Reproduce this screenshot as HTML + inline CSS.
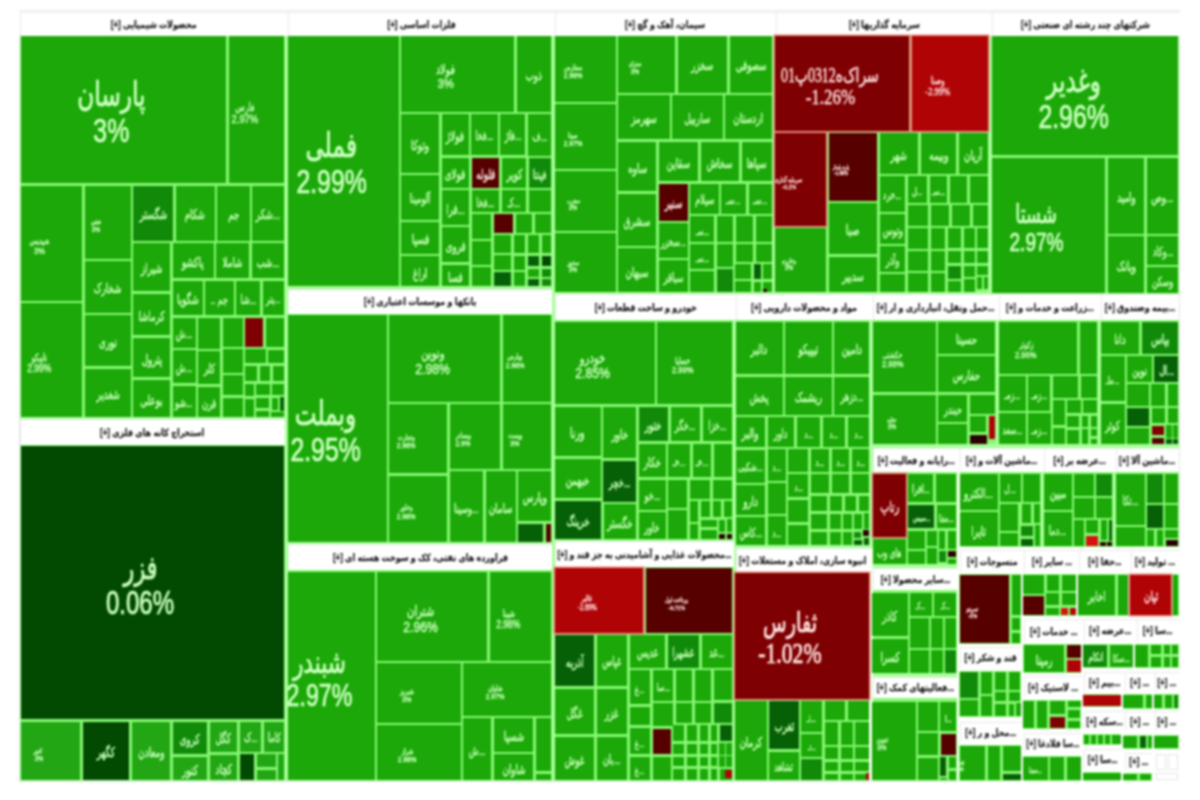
<!DOCTYPE html>
<html lang="fa">
<head>
<meta charset="utf-8">
<title>نقشه بازار</title>
<style>
html,body{margin:0;padding:0;background:#fff;width:1200px;height:800px;overflow:hidden}
body{position:relative;font-family:"Liberation Sans","DejaVu Sans",sans-serif}
#wrap{position:absolute;left:0;top:0;width:1200px;height:800px;filter:blur(.8px)}
#m{position:absolute;left:20px;top:12px;width:1159px;height:769px;background:#88f874}
#m{box-shadow:0 0 0 1px #e6e6e6}
.c{text-shadow:0 0 1px rgba(200,255,190,.55);position:absolute;display:flex;flex-direction:column;align-items:center;justify-content:center;overflow:hidden;color:#c9ffbd;white-space:nowrap;line-height:1;direction:rtl}
.c.r{color:#ffe2e0;text-shadow:0 0 1px rgba(255,220,220,.5);font-family:"Liberation Serif","DejaVu Sans",serif}
.c.p{box-shadow:0 0 0 1.5px #e88a7c}
.c b{font-weight:normal;display:block;font-size:1.05em;transform:scaleX(.64);line-height:1;color:#c4ffb6;-webkit-text-stroke:.35px currentColor}
.c.r b{color:#ffe2e0}
.c.t b{font-size:1.12em;color:inherit}
.c i{-webkit-text-stroke:.3px currentColor}
.c.g b,.c.g i{-webkit-text-stroke:.7px currentColor}
.c.r.g b{font-size:1em}
.c.r.g i{font-size:1.05em}
.c.t b{transform:scaleX(.69);line-height:1.08}
.c.t i{line-height:1.08}
.c.m i{transform:scaleX(.84)}
.c i{font-style:normal;display:block;font-size:1.12em;transform:scaleX(.74);direction:ltr;line-height:1}
.c{box-sizing:border-box}
.c.x{padding-top:4px}
.c.t{padding-right:24px;padding-top:7px}
.h{-webkit-text-stroke:.25px #222;position:absolute;background:#fff;box-shadow:inset 1px 1px 0 #e9e9e9;color:#222;font-weight:bold;font-size:10px;display:flex;align-items:center;justify-content:center;white-space:nowrap;overflow:hidden;direction:rtl}
.h span{display:block}
.w{position:absolute;background:#fff}
</style>
</head>
<body>
<div id="wrap">
<div id="m"></div>
<div class="w" style="left:19px;top:10px;width:1161px;height:26px;box-shadow:inset 0 1px 0 #e6e6e6"></div>

<div style="position:absolute;left:285px;top:36px;width:3px;height:745px;background:#aaff9c"></div>
<div style="position:absolute;left:552px;top:36px;width:3px;height:745px;background:#aaff9c"></div>
<div style="position:absolute;left:772px;top:36px;width:4px;height:257px;background:#aaff9c"></div>
<div style="position:absolute;left:988px;top:36px;width:4px;height:257px;background:#aaff9c"></div>
<div style="position:absolute;left:733px;top:320px;width:3px;height:461px;background:#aaff9c"></div>
<div style="position:absolute;left:869px;top:320px;width:4px;height:461px;background:#aaff9c"></div>
<div style="position:absolute;left:996px;top:320px;width:3px;height:126px;background:#aaff9c"></div>
<div style="position:absolute;left:1098px;top:320px;width:3px;height:126px;background:#aaff9c"></div>
<div style="position:absolute;left:957px;top:472px;width:3px;height:309px;background:#aaff9c"></div>
<div style="position:absolute;left:1041px;top:472px;width:3px;height:75px;background:#aaff9c"></div>
<div style="position:absolute;left:1113px;top:472px;width:3px;height:75px;background:#aaff9c"></div>
<div style="position:absolute;left:20px;top:417px;width:265px;height:3px;background:#aaff9c"></div>
<div style="position:absolute;left:288px;top:286px;width:264px;height:2px;background:#aaff9c"></div>
<div style="position:absolute;left:288px;top:542px;width:264px;height:3px;background:#aaff9c"></div>
<div style="position:absolute;left:555px;top:292px;width:624px;height:3px;background:#aaff9c"></div>
<div style="position:absolute;left:555px;top:540px;width:178px;height:3px;background:#aaff9c"></div>
<div style="position:absolute;left:736px;top:545px;width:134px;height:3px;background:#aaff9c"></div>
<div style="position:absolute;left:873px;top:444px;width:306px;height:4px;background:#aaff9c"></div>
<div style="position:absolute;left:873px;top:564px;width:85px;height:4px;background:#aaff9c"></div>
<div style="position:absolute;left:873px;top:673px;width:85px;height:4px;background:#aaff9c"></div>
<div style="position:absolute;left:20px;top:36px;width:1px;height:745px;background:#aaff9c"></div>
<div style="position:absolute;left:1178px;top:36px;width:1px;height:745px;background:#aaff9c"></div>
<div style="position:absolute;left:20px;top:780px;width:1159px;height:1px;background:#aaff9c"></div>
<div style="position:absolute;left:869px;top:548px;width:4px;height:233px;background:#f2ffec"></div>
<div style="position:absolute;left:957px;top:448px;width:3px;height:333px;background:#f2ffec"></div>
<div class="w" style="left:958px;top:547px;width:223px;height:235px"></div>
<div style="position:absolute;left:959px;top:574px;width:62px;height:70px;background:#88f874"></div>
<div style="position:absolute;left:1023px;top:574px;width:53px;height:42px;background:#88f874"></div>
<div style="position:absolute;left:1078px;top:574px;width:50px;height:42px;background:#88f874"></div>
<div style="position:absolute;left:1130px;top:574px;width:49px;height:42px;background:#88f874"></div>
<div style="position:absolute;left:959px;top:671px;width:62px;height:46px;background:#88f874"></div>
<div style="position:absolute;left:959px;top:745px;width:62px;height:36px;background:#88f874"></div>
<div style="position:absolute;left:1023px;top:644px;width:58px;height:29px;background:#88f874"></div>
<div style="position:absolute;left:1023px;top:700px;width:58px;height:29px;background:#88f874"></div>
<div style="position:absolute;left:1023px;top:756px;width:58px;height:25px;background:#88f874"></div>
<div style="position:absolute;left:1083px;top:644px;width:50px;height:24px;background:#88f874"></div>
<div style="position:absolute;left:1083px;top:694px;width:37px;height:13px;background:#88f874"></div>
<div style="position:absolute;left:1083px;top:734px;width:37px;height:11px;background:#88f874"></div>
<div style="position:absolute;left:1083px;top:772px;width:37px;height:9px;background:#88f874"></div>
<div style="position:absolute;left:1135px;top:644px;width:44px;height:24px;background:#88f874"></div>
<div style="position:absolute;left:1124px;top:694px;width:28px;height:15px;background:#88f874"></div>
<div style="position:absolute;left:1154px;top:694px;width:25px;height:15px;background:#88f874"></div>
<div style="position:absolute;left:1124px;top:735px;width:28px;height:14px;background:#88f874"></div>
<div style="position:absolute;left:1154px;top:735px;width:25px;height:14px;background:#88f874"></div>
<div style="position:absolute;left:1124px;top:773px;width:28px;height:8px;background:#88f874"></div>
<div class="h" style="left:20px;top:12px;width:268px;height:24px"><span style="transform:scaleX(0.800)">محصولات شیمیایی [+]</span></div>
<div class="h" style="left:20px;top:419px;width:265px;height:26px"><span style="transform:scaleX(0.800)">استخراج کانه های فلزی [+]</span></div>
<div class="h" style="left:288px;top:12px;width:267px;height:24px"><span style="transform:scaleX(0.800)">فلزات اساسی [+]</span></div>
<div class="h" style="left:288px;top:289px;width:264px;height:25px"><span style="transform:scaleX(0.800)">بانکها و موسسات اعتباری [+]</span></div>
<div class="h" style="left:288px;top:544px;width:264px;height:26px"><span style="transform:scaleX(0.800)">فراورده های نفتی، کک و سوخت هسته ای [+]</span></div>
<div class="h" style="left:555px;top:12px;width:221px;height:24px"><span style="transform:scaleX(0.800)">سیمان، آهک و گچ [+]</span></div>
<div class="h" style="left:776px;top:12px;width:216px;height:24px"><span style="transform:scaleX(0.800)">سرمایه گذاریها [+]</span></div>
<div class="h" style="left:992px;top:12px;width:187px;height:24px"><span style="transform:scaleX(0.800)">شرکتهای چند رشته ای صنعتی [+]</span></div>
<div class="h" style="left:555px;top:294px;width:181px;height:26px"><span style="transform:scaleX(0.800)">خودرو و ساخت قطعات [+]</span></div>
<div class="h" style="left:736px;top:294px;width:137px;height:26px"><span style="transform:scaleX(0.800)">مواد و محصولات دارویی [+]</span></div>
<div class="h" style="left:873px;top:294px;width:126px;height:26px"><span style="transform:scaleX(0.800)">...حمل ونقل، انبارداری و ار [+]</span></div>
<div class="h" style="left:999px;top:294px;width:102px;height:26px"><span style="transform:scaleX(0.800)">...زراعت و خدمات و [+]</span></div>
<div class="h" style="left:1101px;top:294px;width:78px;height:26px"><span style="transform:scaleX(0.800)">...بیمه وصندوق [+]</span></div>
<div class="h" style="left:873px;top:448px;width:87px;height:24px"><span style="transform:scaleX(0.800)">...رایانه و فعالیت [+]</span></div>
<div class="h" style="left:960px;top:448px;width:84px;height:24px"><span style="transform:scaleX(0.800)">...ماشین آلات و [+]</span></div>
<div class="h" style="left:1044px;top:448px;width:72px;height:24px"><span style="transform:scaleX(0.800)">...عرضه بر [+]</span></div>
<div class="h" style="left:1116px;top:448px;width:63px;height:24px"><span style="transform:scaleX(0.800)">...ماشین آلا [+]</span></div>
<div class="h" style="left:555px;top:541px;width:179px;height:26px"><span style="transform:scaleX(0.795)">...محصولات غذایی و آشامیدنی به جز قند و [+]</span></div>
<div class="h" style="left:736px;top:548px;width:134px;height:24px"><span style="transform:scaleX(0.800)">انبوه سازی، املاک و مستغلات [+]</span></div>
<div class="h" style="left:873px;top:568px;width:85px;height:22px"><span style="transform:scaleX(0.800)">...سایر محصولا [+]</span></div>
<div class="h" style="left:873px;top:677px;width:85px;height:21px"><span style="transform:scaleX(0.800)">...فعالیتهای کمک [+]</span></div>
<div class="h" style="left:960px;top:550px;width:64px;height:22px"><span style="transform:scaleX(0.800)">منسوجات [+]</span></div>
<div class="h" style="left:1024px;top:550px;width:55px;height:22px"><span style="transform:scaleX(0.800)">... سایر [+]</span></div>
<div class="h" style="left:1079px;top:550px;width:52px;height:22px"><span style="transform:scaleX(0.800)">...حفا [+]</span></div>
<div class="h" style="left:1131px;top:550px;width:48px;height:22px"><span style="transform:scaleX(0.800)">... تولید [+]</span></div>
<div class="h" style="left:960px;top:647px;width:62px;height:21px"><span style="transform:scaleX(0.800)">قند و شکر [+]</span></div>
<div class="h" style="left:960px;top:722px;width:62px;height:20px"><span style="transform:scaleX(0.800)">...محل و ر [+]</span></div>
<div class="h" style="left:1024px;top:619px;width:60px;height:24px"><span style="transform:scaleX(0.800)">... خدمات [+]</span></div>
<div class="h" style="left:1024px;top:676px;width:58px;height:22px"><span style="transform:scaleX(0.800)">... لاستیک [+]</span></div>
<div class="h" style="left:1024px;top:733px;width:58px;height:21px"><span style="transform:scaleX(0.757)">...سا فلادغا [+]</span></div>
<div class="h" style="left:1084px;top:619px;width:53px;height:23px"><span style="transform:scaleX(0.800)">...عرضه [+]</span></div>
<div class="h" style="left:1084px;top:672px;width:41px;height:20px"><span style="transform:scaleX(0.800)">...بیم [+]</span></div>
<div class="h" style="left:1084px;top:711px;width:41px;height:20px"><span style="transform:scaleX(0.800)">...سکه [+]</span></div>
<div class="h" style="left:1084px;top:749px;width:38px;height:21px"><span style="transform:scaleX(0.800)">...سا [+]</span></div>
<div class="h" style="left:1137px;top:619px;width:42px;height:23px"><span style="transform:scaleX(0.800)">...سا [+]</span></div>
<div class="h" style="left:1125px;top:672px;width:30px;height:20px"><span style="transform:scaleX(0.800)">... [+]</span></div>
<div class="h" style="left:1155px;top:672px;width:24px;height:20px"><span style="transform:scaleX(0.792)">... [+]</span></div>
<div class="h" style="left:1125px;top:711px;width:30px;height:20px"><span style="transform:scaleX(0.800)">... [+]</span></div>
<div class="h" style="left:1155px;top:711px;width:24px;height:20px"><span style="transform:scaleX(0.792)">... [+]</span></div>
<div class="h" style="left:1125px;top:753px;width:27px;height:17px"><span style="transform:scaleX(0.800)">... [+]</span></div>
<div class="c x t g" style="left:20.6px;top:35.6px;width:205.6px;height:147.6px;background:#1ba808;font-size:30px"><b>پارسان</b><i>3%</i></div>
<div class="c x t m" style="left:228.8px;top:35.6px;width:55.3px;height:147.6px;background:#1ba808;font-size:10px"><b>فارس</b><i>2.97%</i></div>
<div class="c x t m" style="left:20.6px;top:185.8px;width:61.6px;height:114.9px;background:#1ba808;font-size:8px"><b>شپدیس</b><i>3%</i></div>
<div class="c x t m" style="left:20.6px;top:303.3px;width:61.6px;height:114.1px;background:#1ba808;font-size:9px"><b>تاپیکو</b><i>2.99%</i></div>
<div class="c x t m" style="left:84.8px;top:185.8px;width:45.9px;height:72.9px;background:#1ba808;font-size:6px"><b>شفن</b><i>3%</i></div>
<div class="c x" style="left:84.8px;top:261.3px;width:45.9px;height:51.4px;background:#1ba808;font-size:13px"><b>شخارک</b></div>
<div class="c x" style="left:84.8px;top:315.3px;width:45.9px;height:50.9px;background:#1ba808;font-size:13px"><b>نوری</b></div>
<div class="c x" style="left:84.8px;top:368.8px;width:45.9px;height:48.6px;background:#1ba808;font-size:13px"><b>شغدیر</b></div>
<div class="c x" style="left:133.3px;top:185.8px;width:39.9px;height:54.9px;background:#118a0a;font-size:13px"><b>شگستر</b></div>
<div class="c x" style="left:175.8px;top:185.8px;width:38.9px;height:54.9px;background:#1ba808;font-size:13px"><b>شکام</b></div>
<div class="c x" style="left:217.3px;top:185.8px;width:32.4px;height:54.9px;background:#1ba808;font-size:13px"><b>جم</b></div>
<div class="c x" style="left:252.3px;top:185.8px;width:31.8px;height:54.9px;background:#1ba808;font-size:13px"><b>...شکر</b></div>
<div class="c x" style="left:133.3px;top:243.3px;width:36.9px;height:47.9px;background:#1ba808;font-size:13px"><b>شیراز</b></div>
<div class="c x" style="left:172.8px;top:243.3px;width:40.9px;height:34.9px;background:#1ba808;font-size:13px"><b>پاکشو</b></div>
<div class="c x" style="left:216.3px;top:243.3px;width:32.9px;height:34.9px;background:#1ba808;font-size:13px"><b>شاملا</b></div>
<div class="c x" style="left:251.8px;top:243.3px;width:32.3px;height:34.9px;background:#1ba808;font-size:13px"><b>...شب</b></div>
<div class="c x" style="left:172.8px;top:280.8px;width:29.9px;height:34.4px;background:#1ba808;font-size:13px"><b>شگویا</b></div>
<div class="c x" style="left:205.3px;top:280.8px;width:28.4px;height:34.4px;background:#1ba808;font-size:12px"><b>جم ..</b></div>
<div class="c x" style="left:236.3px;top:280.8px;width:23.9px;height:34.4px;background:#1ba808;font-size:12px"><b>...شا</b></div>
<div class="c x" style="left:262.8px;top:280.8px;width:21.3px;height:34.4px;background:#1ba808;font-size:11px"><b>...پتر</b></div>
<div class="c x" style="left:133.3px;top:293.8px;width:36.9px;height:41.4px;background:#1ba808;font-size:13px"><b>کرماشا</b></div>
<div class="c x" style="left:133.3px;top:337.8px;width:36.9px;height:39.4px;background:#1ba808;font-size:13px"><b>پترول</b></div>
<div class="c x" style="left:133.3px;top:379.8px;width:36.9px;height:37.6px;background:#1ba808;font-size:13px"><b>بوعلی</b></div>
<div class="c x" style="left:172.8px;top:317.8px;width:22.9px;height:29.9px;background:#1ba808;font-size:12px"><b>...ش</b></div>
<div class="c" style="left:198.3px;top:317.8px;width:21.9px;height:30.9px;background:#1ba808"></div>
<div class="c" style="left:222.8px;top:317.8px;width:19.9px;height:28.9px;background:#1ba808"></div>
<div class="c r" style="left:245.3px;top:317.8px;width:17.9px;height:28.9px;background:#7f0002"></div>
<div class="c" style="left:265.8px;top:317.8px;width:18.3px;height:29.4px;background:#1ba808"></div>
<div class="c x" style="left:172.8px;top:350.3px;width:22.9px;height:32.9px;background:#1ba808;font-size:12px"><b>...ش</b></div>
<div class="c x" style="left:198.3px;top:351.3px;width:21.9px;height:32.9px;background:#1ba808;font-size:12px"><b>کلر</b></div>
<div class="c" style="left:222.8px;top:349.3px;width:19.9px;height:23.4px;background:#1ba808"></div>
<div class="c" style="left:245.3px;top:349.3px;width:20.4px;height:13.9px;background:#1ba808"></div>
<div class="c" style="left:268.3px;top:349.8px;width:15.8px;height:13.4px;background:#1ba808"></div>
<div class="c x" style="left:172.8px;top:385.8px;width:22.9px;height:31.6px;background:#1ba808;font-size:12px"><b>...شو</b></div>
<div class="c x" style="left:198.3px;top:386.8px;width:21.9px;height:30.6px;background:#1ba808;font-size:12px"><b>قرن</b></div>
<div class="c" style="left:222.8px;top:375.3px;width:19.9px;height:19.9px;background:#1ba808"></div>
<div class="c" style="left:222.8px;top:397.8px;width:19.9px;height:19.6px;background:#1ba808"></div>
<div class="c" style="left:245.3px;top:365.8px;width:11.9px;height:15.4px;background:#1ba808"></div>
<div class="c" style="left:259.8px;top:365.8px;width:10.4px;height:15.4px;background:#1ba808"></div>
<div class="c" style="left:272.8px;top:365.8px;width:11.3px;height:15.4px;background:#1ba808"></div>
<div class="c" style="left:245.3px;top:383.8px;width:8.4px;height:12.4px;background:#1ba808"></div>
<div class="c" style="left:256.3px;top:383.8px;width:13.4px;height:11.4px;background:#1ba808"></div>
<div class="c" style="left:272.3px;top:383.8px;width:11.8px;height:11.4px;background:#1ba808"></div>
<div class="c" style="left:245.3px;top:398.8px;width:8.4px;height:18.6px;background:#1ba808"></div>
<div class="c" style="left:256.3px;top:397.8px;width:12.9px;height:10.4px;background:#1ba808"></div>
<div class="c" style="left:256.3px;top:410.8px;width:12.9px;height:6.6px;background:#1ba808"></div>
<div class="c" style="left:271.8px;top:397.8px;width:5.9px;height:12.4px;background:#1ba808"></div>
<div class="c" style="left:279.7px;top:397.2px;width:4.4px;height:13.6px;background:#066006"></div>
<div class="c" style="left:271.2px;top:412.2px;width:12.9px;height:5.2px;background:#1ba808"></div>
<div class="c x t g" style="left:20.6px;top:445.6px;width:263.5px;height:273.6px;background:#024a02;font-size:29px"><b>فزر</b><i>0.06%</i></div>
<div class="c x t m" style="left:20.6px;top:721.8px;width:59.6px;height:58.6px;background:#22a614;font-size:6px"><b>کنور</b><i>3%</i></div>
<div class="c x" style="left:82.8px;top:721.8px;width:46.4px;height:58.6px;background:#024a02;font-size:13px"><b>کگهر</b></div>
<div class="c x" style="left:131.8px;top:721.8px;width:38.4px;height:58.6px;background:#22a614;font-size:13px"><b>ومعادن</b></div>
<div class="c x" style="left:172.8px;top:721.8px;width:34.4px;height:32.4px;background:#118a0a;font-size:13px"><b>کروی</b></div>
<div class="c x" style="left:172.8px;top:756.8px;width:34.4px;height:23.6px;background:#22a614;font-size:13px"><b>کنور</b></div>
<div class="c x" style="left:209.8px;top:721.8px;width:27.4px;height:30.4px;background:#22a614;font-size:13px"><b>کگل</b></div>
<div class="c x" style="left:209.8px;top:754.8px;width:27.4px;height:25.6px;background:#22a614;font-size:13px"><b>کچاد</b></div>
<div class="c x" style="left:239.8px;top:721.8px;width:21.4px;height:29.9px;background:#22a614;font-size:12px"><b>...ک</b></div>
<div class="c x" style="left:263.8px;top:721.8px;width:20.3px;height:29.9px;background:#22a614;font-size:12px"><b>کاما</b></div>
<div class="c" style="left:239.8px;top:754.3px;width:14.4px;height:26.1px;background:#024a02"></div>
<div class="c" style="left:256.8px;top:754.3px;width:18.9px;height:12.9px;background:#22a614"></div>
<div class="c" style="left:256.8px;top:769.8px;width:18.9px;height:10.6px;background:#22a614"></div>
<div class="c" style="left:278.3px;top:754.3px;width:5.8px;height:26.1px;background:#22a614"></div>
<div class="c x t g" style="left:287.9px;top:35.6px;width:110.8px;height:250.8px;background:#1ba808;font-size:30px"><b>فملی</b><i>2.99%</i></div>
<div class="c x t m" style="left:401.3px;top:35.6px;width:112.9px;height:76.1px;background:#1ba808;font-size:12px"><b>فولاد</b><i>3%</i></div>
<div class="c x" style="left:516.8px;top:35.6px;width:34.3px;height:76.1px;background:#1ba808;font-size:13px"><b>ذوب</b></div>
<div class="c x" style="left:401.3px;top:114.3px;width:37.9px;height:58.4px;background:#1ba808;font-size:13px"><b>وتوکا</b></div>
<div class="c x" style="left:441.8px;top:114.3px;width:26.9px;height:40.9px;background:#1ba808;font-size:13px"><b>فولاژ</b></div>
<div class="c x" style="left:471.3px;top:114.3px;width:26.4px;height:40.9px;background:#1ba808;font-size:12px"><b>...فخا</b></div>
<div class="c x" style="left:500.3px;top:114.3px;width:24.9px;height:40.9px;background:#1ba808;font-size:12px"><b>...فاژ</b></div>
<div class="c x" style="left:527.8px;top:114.3px;width:23.3px;height:41.4px;background:#1ba808;font-size:12px"><b>...ف</b></div>
<div class="c x" style="left:401.3px;top:175.3px;width:37.9px;height:44.4px;background:#1ba808;font-size:12px"><b>آلومینا</b></div>
<div class="c x" style="left:401.3px;top:222.3px;width:37.9px;height:31.4px;background:#1ba808;font-size:13px"><b>فسپا</b></div>
<div class="c x" style="left:401.3px;top:256.3px;width:37.9px;height:30.1px;background:#1ba808;font-size:13px"><b>اراغ</b></div>
<div class="c x" style="left:441.8px;top:157.8px;width:27.4px;height:29.9px;background:#1ba808;font-size:13px"><b>فولای</b></div>
<div class="c r x" style="left:471.8px;top:157.8px;width:27.4px;height:29.9px;background:#560000;font-size:13px"><b>فلوله</b></div>
<div class="c x" style="left:501.8px;top:157.8px;width:24.4px;height:29.9px;background:#1ba808;font-size:13px"><b>کویر</b></div>
<div class="c x" style="left:528.8px;top:158.3px;width:22.3px;height:29.4px;background:#118a0a;font-size:12px"><b>فپنتا</b></div>
<div class="c x" style="left:441.8px;top:190.3px;width:27.4px;height:34.4px;background:#1ba808;font-size:13px"><b>...فرا</b></div>
<div class="c x" style="left:441.8px;top:227.3px;width:27.4px;height:34.9px;background:#1ba808;font-size:13px"><b>فروی</b></div>
<div class="c x" style="left:441.8px;top:264.8px;width:27.4px;height:21.6px;background:#1ba808;font-size:13px"><b>فسا</b></div>
<div class="c x" style="left:471.8px;top:190.3px;width:27.4px;height:21.4px;background:#1ba808;font-size:12px"><b>...فخا</b></div>
<div class="c x" style="left:501.8px;top:190.3px;width:24.4px;height:21.4px;background:#1ba808;font-size:12px"><b>...کـ</b></div>
<div class="c" style="left:528.8px;top:190.3px;width:22.3px;height:21.4px;background:#1ba808"></div>
<div class="c" style="left:471.8px;top:214.3px;width:19.4px;height:24.4px;background:#1ba808"></div>
<div class="c r" style="left:493.8px;top:214.3px;width:19.4px;height:18.4px;background:#560000"></div>
<div class="c" style="left:515.8px;top:214.3px;width:16.4px;height:18.4px;background:#1ba808"></div>
<div class="c" style="left:534.8px;top:214.3px;width:16.3px;height:18.4px;background:#1ba808"></div>
<div class="c" style="left:471.8px;top:241.3px;width:19.4px;height:23.4px;background:#1ba808"></div>
<div class="c" style="left:471.8px;top:267.3px;width:19.4px;height:19.1px;background:#1ba808"></div>
<div class="c" style="left:493.8px;top:235.3px;width:17.4px;height:17.4px;background:#1ba808"></div>
<div class="c" style="left:493.8px;top:255.3px;width:17.4px;height:14.4px;background:#1ba808"></div>
<div class="c" style="left:493.8px;top:272.3px;width:17.4px;height:14.1px;background:#066006"></div>
<div class="c" style="left:513.8px;top:235.3px;width:11.4px;height:17.9px;background:#1ba808"></div>
<div class="c" style="left:513.8px;top:255.8px;width:11.4px;height:13.9px;background:#1ba808"></div>
<div class="c" style="left:513.8px;top:272.3px;width:11.4px;height:14.1px;background:#1ba808"></div>
<div class="c" style="left:527.8px;top:235.3px;width:11.4px;height:17.9px;background:#1ba808"></div>
<div class="c" style="left:527.8px;top:255.8px;width:11.4px;height:10.4px;background:#066006"></div>
<div class="c" style="left:527.8px;top:268.8px;width:11.4px;height:7.9px;background:#1ba808"></div>
<div class="c" style="left:527.8px;top:279.3px;width:11.4px;height:7.1px;background:#066006"></div>
<div class="c" style="left:541.8px;top:235.3px;width:9.3px;height:17.9px;background:#1ba808"></div>
<div class="c" style="left:541.8px;top:255.8px;width:9.3px;height:10.4px;background:#024a02"></div>
<div class="c" style="left:541.8px;top:268.8px;width:9.3px;height:7.9px;background:#118a0a"></div>
<div class="c" style="left:541.8px;top:279.3px;width:9.3px;height:7.1px;background:#118a0a"></div>
<div class="c x t g" style="left:287.9px;top:314.6px;width:98.8px;height:227.8px;background:#1ba808;font-size:30px"><b>وبملت</b><i>2.95%</i></div>
<div class="c x t m" style="left:389.3px;top:314.6px;width:110.9px;height:87.1px;background:#1ba808;font-size:13px"><b>ونوین</b><i>2.98%</i></div>
<div class="c x t m" style="left:502.8px;top:314.6px;width:48.3px;height:87.1px;background:#1ba808;font-size:7px"><b>وپارس</b><i>2.98%</i></div>
<div class="c x t m" style="left:389.3px;top:404.3px;width:57.9px;height:68.9px;background:#1ba808;font-size:7px"><b>وتجارت</b><i>2.98%</i></div>
<div class="c x t m" style="left:449.8px;top:404.3px;width:50.4px;height:64.4px;background:#1ba808;font-size:7px"><b>وبصادر</b><i>2.9%</i></div>
<div class="c x t m" style="left:502.8px;top:404.3px;width:48.3px;height:64.4px;background:#1ba808;font-size:7px"><b>وپست</b><i>3%</i></div>
<div class="c x t m" style="left:389.3px;top:475.8px;width:57.9px;height:66.6px;background:#1ba808;font-size:7px"><b>وخاور</b><i>2.98%</i></div>
<div class="c x" style="left:449.8px;top:471.3px;width:33.4px;height:71.1px;background:#1ba808;font-size:12px"><b>...وسینا</b></div>
<div class="c x" style="left:485.8px;top:471.3px;width:29.9px;height:71.1px;background:#1ba808;font-size:13px"><b>سامان</b></div>
<div class="c x" style="left:518.3px;top:471.3px;width:32.8px;height:49.9px;background:#1ba808;font-size:13px"><b>وپارس</b></div>
<div class="c" style="left:518.3px;top:523.8px;width:24.9px;height:18.6px;background:#066006"></div>
<div class="c r" style="left:545.8px;top:523.8px;width:5.3px;height:18.6px;background:#560000"></div>
<div class="c x t g" style="left:287.9px;top:571.6px;width:86.8px;height:208.8px;background:#1ba808;font-size:28px"><b>شبندر</b><i>2.97%</i></div>
<div class="c x t m" style="left:377.3px;top:571.6px;width:109.9px;height:89.1px;background:#1ba808;font-size:13px"><b>شتران</b><i>2.96%</i></div>
<div class="c x t m" style="left:489.8px;top:571.6px;width:61.3px;height:89.1px;background:#1ba808;font-size:9px"><b>شپنا</b><i>2.98%</i></div>
<div class="c x t m" style="left:377.3px;top:663.3px;width:83.4px;height:59.4px;background:#1ba808;font-size:7px"><b>شبریز</b><i>3%</i></div>
<div class="c x t m" style="left:463.3px;top:663.3px;width:87.8px;height:52.4px;background:#1ba808;font-size:7px"><b>شاوان</b><i>2.97%</i></div>
<div class="c x t m" style="left:377.3px;top:725.3px;width:83.4px;height:55.1px;background:#1ba808;font-size:7px"><b>شراز</b><i>2.98%</i></div>
<div class="c x" style="left:463.3px;top:718.3px;width:27.9px;height:62.1px;background:#1ba808;font-size:12px"><b>...ش</b></div>
<div class="c x" style="left:493.8px;top:718.3px;width:39.4px;height:33.4px;background:#1ba808;font-size:13px"><b>شسپا</b></div>
<div class="c x" style="left:493.8px;top:754.3px;width:39.4px;height:26.1px;background:#1ba808;font-size:13px"><b>شاوان</b></div>
<div class="c" style="left:535.8px;top:718.3px;width:15.3px;height:52.9px;background:#1ba808"></div>
<div class="c" style="left:535.8px;top:773.8px;width:15.3px;height:6.6px;background:#1ba808"></div>
<div class="c x t m" style="left:554.9px;top:35.6px;width:60.8px;height:66.1px;background:#1ba808;font-size:7px"><b>سفارس</b><i>2.98%</i></div>
<div class="c x t m" style="left:554.9px;top:104.3px;width:60.8px;height:64.4px;background:#1ba808;font-size:7px"><b>سیتا</b><i>2.97%</i></div>
<div class="c x t m" style="left:554.9px;top:171.3px;width:60.8px;height:59.4px;background:#1ba808;font-size:6px"><b>سغرب</b><i>3%</i></div>
<div class="c x t m" style="left:554.9px;top:233.3px;width:60.8px;height:59.1px;background:#1ba808;font-size:6px"><b>سخوز</b><i>3%</i></div>
<div class="c x t m" style="left:618.3px;top:35.6px;width:56.9px;height:57.1px;background:#1ba808;font-size:6px"><b>ستران</b><i>3%</i></div>
<div class="c x" style="left:677.8px;top:35.6px;width:49.4px;height:57.1px;background:#1ba808;font-size:13px"><b>سخزر</b></div>
<div class="c x" style="left:729.8px;top:35.6px;width:41.8px;height:57.1px;background:#1ba808;font-size:13px"><b>سصوفی</b></div>
<div class="c x" style="left:618.3px;top:95.3px;width:51.4px;height:43.9px;background:#1ba808;font-size:13px"><b>سهرمز</b></div>
<div class="c x" style="left:672.3px;top:95.3px;width:50.4px;height:43.9px;background:#1ba808;font-size:13px"><b>ساربیل</b></div>
<div class="c x" style="left:725.3px;top:95.3px;width:46.3px;height:43.9px;background:#1ba808;font-size:13px"><b>اردستان</b></div>
<div class="c x" style="left:618.3px;top:141.8px;width:37.9px;height:49.4px;background:#1ba808;font-size:13px"><b>ساوه</b></div>
<div class="c x" style="left:658.8px;top:141.8px;width:39.4px;height:39.4px;background:#1ba808;font-size:13px"><b>سقاین</b></div>
<div class="c x" style="left:700.8px;top:141.8px;width:38.4px;height:39.4px;background:#1ba808;font-size:13px"><b>سخاش</b></div>
<div class="c x" style="left:741.8px;top:141.8px;width:29.8px;height:39.4px;background:#1ba808;font-size:13px"><b>سپاها</b></div>
<div class="c x" style="left:618.3px;top:193.8px;width:37.9px;height:51.9px;background:#1ba808;font-size:13px"><b>سشرق</b></div>
<div class="c x" style="left:618.3px;top:248.3px;width:37.9px;height:44.1px;background:#1ba808;font-size:13px"><b>سبهان</b></div>
<div class="c r x" style="left:658.8px;top:183.8px;width:28.9px;height:36.9px;background:#560000;font-size:13px"><b>سنیر</b></div>
<div class="c x" style="left:658.8px;top:223.3px;width:28.9px;height:34.4px;background:#1ba808;font-size:11px"><b>...سخزر</b></div>
<div class="c x" style="left:658.8px;top:260.3px;width:28.9px;height:32.1px;background:#1ba808;font-size:12px"><b>سباقر</b></div>
<div class="c x" style="left:690.3px;top:183.8px;width:28.4px;height:29.9px;background:#1ba808;font-size:12px"><b>سیلام</b></div>
<div class="c x" style="left:721.3px;top:183.8px;width:24.9px;height:29.9px;background:#1ba808;font-size:11px"><b>...سـ</b></div>
<div class="c x" style="left:748.8px;top:183.8px;width:22.8px;height:29.9px;background:#1ba808;font-size:11px"><b>...سـ</b></div>
<div class="c x" style="left:690.3px;top:216.3px;width:23.9px;height:25.4px;background:#1ba808;font-size:10px"><b>...سـ</b></div>
<div class="c" style="left:716.8px;top:216.3px;width:16.4px;height:25.4px;background:#1ba808"></div>
<div class="c" style="left:735.8px;top:216.3px;width:17.4px;height:25.4px;background:#1ba808"></div>
<div class="c" style="left:755.8px;top:216.3px;width:15.8px;height:25.4px;background:#1ba808"></div>
<div class="c x" style="left:690.3px;top:244.3px;width:23.9px;height:24.4px;background:#1ba808;font-size:10px"><b>...سـ</b></div>
<div class="c" style="left:690.3px;top:271.3px;width:23.9px;height:21.1px;background:#1ba808"></div>
<div class="c" style="left:716.8px;top:244.3px;width:16.4px;height:22.4px;background:#1ba808"></div>
<div class="c" style="left:716.8px;top:269.3px;width:15.9px;height:23.1px;background:#118a0a"></div>
<div class="c" style="left:735.8px;top:244.3px;width:17.4px;height:17.4px;background:#1ba808"></div>
<div class="c" style="left:755.8px;top:244.3px;width:15.8px;height:17.4px;background:#1ba808"></div>
<div class="c" style="left:735.3px;top:264.3px;width:15.9px;height:14.4px;background:#1ba808"></div>
<div class="c" style="left:753.8px;top:264.3px;width:6.9px;height:14.9px;background:#066006"></div>
<div class="c" style="left:763.3px;top:264.3px;width:8.3px;height:14.9px;background:#1ba808"></div>
<div class="c" style="left:735.3px;top:281.3px;width:15.9px;height:11.1px;background:#1ba808"></div>
<div class="c" style="left:753.8px;top:281.8px;width:6.9px;height:10.6px;background:#1ba808"></div>
<div class="c" style="left:763.3px;top:281.8px;width:8.3px;height:10.6px;background:#1ba808"></div>
<div class="c r" style="left:763.2px;top:288.6px;width:4.2px;height:3.8px;background:#2a0000"></div>
<div class="c r x t p m" style="left:775.4px;top:35.6px;width:133.8px;height:95.1px;background:#7f0002;font-size:18px"><b>سراک‌ه0312پ01</b><i>-1.26%</i></div>
<div class="c r x t p m" style="left:911.8px;top:35.6px;width:76.3px;height:95.1px;background:#b00306;font-size:9px"><b>وصنا</b><i>-2.99%</i></div>
<div class="c r x t p m" style="left:775.4px;top:133.3px;width:50.8px;height:92.4px;background:#7f0002;font-size:6px"><b>سرمایه گذاری</b><i>-0.2%</i></div>
<div class="c r x t m" style="left:828.8px;top:133.3px;width:48.4px;height:67.4px;background:#560000;font-size:5px"><b>پارند پایدار</b><i>-1.66%</i></div>
<div class="c x" style="left:879.8px;top:133.3px;width:38.4px;height:40.4px;background:#1ba808;font-size:13px"><b>شهر</b></div>
<div class="c x" style="left:920.8px;top:133.3px;width:35.4px;height:40.4px;background:#1ba808;font-size:13px"><b>وبیمه</b></div>
<div class="c x" style="left:958.8px;top:133.3px;width:29.3px;height:40.4px;background:#1ba808;font-size:13px"><b>آریان</b></div>
<div class="c x" style="left:828.8px;top:203.3px;width:48.4px;height:50.9px;background:#1ba808;font-size:14px"><b>صبا</b></div>
<div class="c x" style="left:828.8px;top:256.8px;width:48.4px;height:35.6px;background:#1ba808;font-size:13px"><b>سدبیر</b></div>
<div class="c x t m" style="left:775.4px;top:228.3px;width:50.8px;height:64.1px;background:#1ba808;font-size:6px"><b>وخارزم</b><i>3%</i></div>
<div class="c x" style="left:879.8px;top:176.3px;width:25.4px;height:35.4px;background:#1ba808;font-size:11px"><b>...خرد</b></div>
<div class="c x" style="left:879.8px;top:214.3px;width:25.4px;height:29.4px;background:#1ba808;font-size:12px"><b>وتوس</b></div>
<div class="c x" style="left:879.8px;top:246.3px;width:25.4px;height:25.4px;background:#1ba808;font-size:12px"><b>وآذر</b></div>
<div class="c" style="left:879.8px;top:274.3px;width:25.4px;height:18.1px;background:#1ba808"></div>
<div class="c x" style="left:907.8px;top:176.3px;width:19.4px;height:26.4px;background:#1ba808;font-size:10px"><b>...ل</b></div>
<div class="c x" style="left:929.8px;top:176.3px;width:17.4px;height:26.4px;background:#1ba808;font-size:10px"><b>...سـ</b></div>
<div class="c" style="left:949.8px;top:176.3px;width:17.4px;height:26.4px;background:#1ba808"></div>
<div class="c" style="left:969.8px;top:176.3px;width:18.3px;height:26.4px;background:#1ba808"></div>
<div class="c" style="left:907.8px;top:205.3px;width:20.4px;height:20.4px;background:#1ba808"></div>
<div class="c" style="left:930.8px;top:205.3px;width:18.4px;height:20.4px;background:#1ba808"></div>
<div class="c" style="left:951.8px;top:205.3px;width:18.4px;height:20.4px;background:#1ba808"></div>
<div class="c" style="left:972.8px;top:205.3px;width:15.3px;height:20.4px;background:#1ba808"></div>
<div class="c" style="left:907.8px;top:228.3px;width:20.4px;height:20.4px;background:#1ba808"></div>
<div class="c" style="left:930.8px;top:228.3px;width:14.4px;height:20.4px;background:#1ba808"></div>
<div class="c" style="left:947.8px;top:228.3px;width:13.4px;height:19.9px;background:#1ba808"></div>
<div class="c" style="left:963.8px;top:228.3px;width:10.9px;height:19.9px;background:#1ba808"></div>
<div class="c" style="left:977.3px;top:228.3px;width:10.8px;height:19.9px;background:#1ba808"></div>
<div class="c" style="left:907.8px;top:251.3px;width:20.4px;height:19.4px;background:#1ba808"></div>
<div class="c" style="left:930.8px;top:251.3px;width:14.4px;height:19.4px;background:#1ba808"></div>
<div class="c" style="left:907.8px;top:273.3px;width:20.4px;height:19.1px;background:#1ba808"></div>
<div class="c" style="left:930.8px;top:273.3px;width:14.4px;height:19.1px;background:#1ba808"></div>
<div class="c" style="left:947.8px;top:250.8px;width:13.4px;height:12.4px;background:#1ba808"></div>
<div class="c" style="left:947.8px;top:265.8px;width:13.4px;height:12.9px;background:#118a0a"></div>
<div class="c" style="left:947.8px;top:281.3px;width:13.4px;height:11.1px;background:#1ba808"></div>
<div class="c" style="left:963.8px;top:250.8px;width:10.9px;height:12.4px;background:#1ba808"></div>
<div class="c" style="left:963.8px;top:265.8px;width:10.9px;height:10.9px;background:#1ba808"></div>
<div class="c" style="left:963.8px;top:279.3px;width:10.9px;height:13.1px;background:#1ba808"></div>
<div class="c" style="left:977.3px;top:250.8px;width:10.8px;height:12.4px;background:#1ba808"></div>
<div class="c" style="left:977.3px;top:265.8px;width:10.8px;height:9.4px;background:#1ba808"></div>
<div class="c" style="left:976.7px;top:277.2px;width:5.6px;height:12.2px;background:#1ba808"></div>
<div class="c" style="left:983.7px;top:277.2px;width:4.4px;height:12.2px;background:#1ba808"></div>
<div class="c x t g" style="left:991.9px;top:35.6px;width:186.5px;height:119.6px;background:#1ba808;font-size:30px"><b>وغدیر</b><i>2.96%</i></div>
<div class="c x t g" style="left:991.9px;top:157.8px;width:113.3px;height:135.6px;background:#1ba808;font-size:23px"><b>شستا</b><i>2.97%</i></div>
<div class="c x" style="left:1107.8px;top:157.8px;width:36.4px;height:75.9px;background:#1ba808;font-size:13px"><b>وامید</b></div>
<div class="c x" style="left:1146.8px;top:157.8px;width:31.6px;height:75.9px;background:#1ba808;font-size:13px"><b>...وص</b></div>
<div class="c x" style="left:1107.8px;top:236.3px;width:36.4px;height:57.1px;background:#1ba808;font-size:13px"><b>وبانک</b></div>
<div class="c x" style="left:1146.8px;top:236.3px;width:31.6px;height:28.4px;background:#1ba808;font-size:12px"><b>...وکاد</b></div>
<div class="c x" style="left:1146.8px;top:267.3px;width:31.6px;height:26.1px;background:#1ba808;font-size:12px"><b>وسکن</b></div>
<div class="c x t m" style="left:554.9px;top:321.6px;width:99.8px;height:82.6px;background:#1ba808;font-size:13px"><b>خودرو</b><i>2.85%</i></div>
<div class="c x t m" style="left:657.3px;top:321.6px;width:74.8px;height:82.6px;background:#1ba808;font-size:8px"><b>خساپا</b><i>2.99%</i></div>
<div class="c x" style="left:554.9px;top:406.8px;width:45.8px;height:49.4px;background:#1ba808;font-size:14px"><b>ورنا</b></div>
<div class="c x" style="left:603.3px;top:406.8px;width:32.9px;height:51.4px;background:#1ba808;font-size:13px"><b>خاور</b></div>
<div class="c x" style="left:638.8px;top:406.8px;width:29.4px;height:34.4px;background:#118a0a;font-size:13px"><b>ختور</b></div>
<div class="c x" style="left:670.8px;top:406.8px;width:29.4px;height:34.4px;background:#1ba808;font-size:12px"><b>...خگر</b></div>
<div class="c x" style="left:702.8px;top:406.8px;width:29.3px;height:34.4px;background:#1ba808;font-size:12px"><b>...خزا</b></div>
<div class="c x" style="left:554.9px;top:458.8px;width:45.8px;height:39.4px;background:#1ba808;font-size:13px"><b>خبهمن</b></div>
<div class="c x" style="left:554.9px;top:500.8px;width:46.3px;height:38.6px;background:#066006;font-size:13px"><b>خرینگ</b></div>
<div class="c x" style="left:603.3px;top:460.8px;width:32.9px;height:40.9px;background:#066006;font-size:12px"><b>...خچر</b></div>
<div class="c x" style="left:603.8px;top:504.3px;width:32.4px;height:35.1px;background:#1ba808;font-size:13px"><b>خگستر</b></div>
<div class="c x" style="left:638.8px;top:443.8px;width:26.9px;height:33.4px;background:#1ba808;font-size:13px"><b>خکار</b></div>
<div class="c x" style="left:668.3px;top:443.8px;width:21.9px;height:33.4px;background:#1ba808;font-size:11px"><b>...خـ</b></div>
<div class="c x" style="left:692.8px;top:443.8px;width:18.4px;height:33.4px;background:#1ba808;font-size:11px"><b>...خـ</b></div>
<div class="c" style="left:713.8px;top:443.8px;width:18.3px;height:33.4px;background:#1ba808"></div>
<div class="c x" style="left:638.8px;top:479.8px;width:26.9px;height:29.9px;background:#1ba808;font-size:12px"><b>...خو</b></div>
<div class="c" style="left:668.3px;top:479.8px;width:18.9px;height:27.9px;background:#1ba808"></div>
<div class="c" style="left:689.8px;top:479.8px;width:20.4px;height:18.9px;background:#1ba808"></div>
<div class="c" style="left:712.8px;top:479.8px;width:19.3px;height:18.9px;background:#1ba808"></div>
<div class="c x" style="left:638.8px;top:512.3px;width:26.9px;height:27.1px;background:#1ba808;font-size:12px"><b>خاور</b></div>
<div class="c" style="left:668.3px;top:510.3px;width:18.9px;height:29.1px;background:#1ba808"></div>
<div class="c" style="left:689.8px;top:501.3px;width:8.4px;height:20.4px;background:#1ba808"></div>
<div class="c" style="left:689.8px;top:524.3px;width:8.4px;height:15.1px;background:#1ba808"></div>
<div class="c" style="left:700.8px;top:501.3px;width:9.4px;height:15.9px;background:#1ba808"></div>
<div class="c" style="left:712.8px;top:501.3px;width:8.4px;height:15.9px;background:#1ba808"></div>
<div class="c" style="left:723.8px;top:501.3px;width:8.3px;height:15.9px;background:#1ba808"></div>
<div class="c" style="left:700.8px;top:519.8px;width:15.9px;height:7.4px;background:#1ba808"></div>
<div class="c" style="left:700.8px;top:529.8px;width:15.9px;height:9.6px;background:#1ba808"></div>
<div class="c" style="left:719.3px;top:519.8px;width:5.9px;height:11.9px;background:#1ba808"></div>
<div class="c" style="left:727.2px;top:519.2px;width:4.9px;height:13.1px;background:#1ba808"></div>
<div class="c r" style="left:718.7px;top:533.7px;width:6.6px;height:5.7px;background:#2a0000"></div>
<div class="c r" style="left:726.7px;top:533.7px;width:5.4px;height:5.7px;background:#2a0000"></div>
<div class="c x" style="left:735.9px;top:321.6px;width:46.8px;height:52.6px;background:#1ba808;font-size:13px"><b>دالبر</b></div>
<div class="c x" style="left:785.3px;top:321.6px;width:46.4px;height:52.6px;background:#1ba808;font-size:13px"><b>تیپیکو</b></div>
<div class="c x" style="left:834.3px;top:321.6px;width:34.8px;height:52.6px;background:#1ba808;font-size:13px"><b>دامین</b></div>
<div class="c x" style="left:735.9px;top:376.8px;width:46.8px;height:37.9px;background:#1ba808;font-size:13px"><b>پخش</b></div>
<div class="c x" style="left:785.3px;top:376.8px;width:46.4px;height:37.9px;background:#1ba808;font-size:13px"><b>ریشمک</b></div>
<div class="c x" style="left:834.3px;top:376.8px;width:34.8px;height:37.9px;background:#1ba808;font-size:12px"><b>...دزهر</b></div>
<div class="c x" style="left:735.9px;top:417.3px;width:29.3px;height:29.9px;background:#1ba808;font-size:13px"><b>والبر</b></div>
<div class="c x" style="left:767.8px;top:417.3px;width:26.4px;height:29.4px;background:#1ba808;font-size:12px"><b>داور</b></div>
<div class="c x" style="left:796.8px;top:417.3px;width:23.4px;height:29.4px;background:#1ba808;font-size:10px"><b>...د</b></div>
<div class="c x" style="left:822.8px;top:417.3px;width:22.4px;height:29.4px;background:#1ba808;font-size:10px"><b>...د</b></div>
<div class="c x" style="left:847.8px;top:417.3px;width:21.3px;height:29.4px;background:#1ba808;font-size:10px"><b>...د</b></div>
<div class="c x" style="left:735.9px;top:449.8px;width:29.3px;height:32.9px;background:#1ba808;font-size:11px"><b>...شکبی</b></div>
<div class="c x" style="left:735.9px;top:485.3px;width:29.3px;height:29.4px;background:#1ba808;font-size:13px"><b>دارو</b></div>
<div class="c x" style="left:735.9px;top:517.3px;width:29.3px;height:28.1px;background:#1ba808;font-size:12px"><b>...کاس</b></div>
<div class="c x" style="left:767.8px;top:449.3px;width:17.9px;height:31.4px;background:#1ba808;font-size:10px"><b>...د</b></div>
<div class="c" style="left:767.8px;top:483.3px;width:17.9px;height:30.4px;background:#1ba808"></div>
<div class="c x" style="left:767.8px;top:516.3px;width:17.9px;height:29.1px;background:#1ba808;font-size:10px"><b>...د</b></div>
<div class="c" style="left:788.3px;top:449.3px;width:19.9px;height:22.4px;background:#1ba808"></div>
<div class="c x" style="left:788.3px;top:474.3px;width:19.9px;height:22.9px;background:#1ba808;font-size:10px"><b>...د</b></div>
<div class="c" style="left:788.3px;top:499.8px;width:19.9px;height:22.4px;background:#1ba808"></div>
<div class="c" style="left:788.3px;top:524.8px;width:19.9px;height:20.6px;background:#1ba808"></div>
<div class="c x" style="left:810.8px;top:449.3px;width:18.4px;height:22.4px;background:#1ba808;font-size:10px"><b>...د</b></div>
<div class="c x" style="left:831.8px;top:449.3px;width:17.4px;height:22.4px;background:#1ba808;font-size:10px"><b>...د</b></div>
<div class="c x" style="left:851.8px;top:449.3px;width:17.6px;height:22.4px;background:#1ba808;font-size:10px"><b>...د</b></div>
<div class="c" style="left:810.8px;top:474.3px;width:18.4px;height:18.9px;background:#1ba808"></div>
<div class="c" style="left:831.8px;top:474.3px;width:17.4px;height:18.9px;background:#1ba808"></div>
<div class="c" style="left:851.8px;top:474.3px;width:17.3px;height:18.9px;background:#1ba808"></div>
<div class="c" style="left:810.8px;top:495.8px;width:16.4px;height:15.4px;background:#1ba808"></div>
<div class="c" style="left:829.8px;top:495.8px;width:12.4px;height:15.4px;background:#1ba808"></div>
<div class="c" style="left:844.8px;top:495.8px;width:11.4px;height:15.4px;background:#1ba808"></div>
<div class="c" style="left:858.8px;top:495.8px;width:10.3px;height:15.4px;background:#1ba808"></div>
<div class="c" style="left:810.8px;top:513.8px;width:16.4px;height:15.4px;background:#1ba808"></div>
<div class="c" style="left:829.8px;top:513.8px;width:10.9px;height:15.4px;background:#1ba808"></div>
<div class="c" style="left:843.3px;top:513.8px;width:8.4px;height:15.4px;background:#1ba808"></div>
<div class="c" style="left:854.3px;top:513.8px;width:7.4px;height:15.4px;background:#1ba808"></div>
<div class="c" style="left:863.7px;top:513.2px;width:5.4px;height:15.6px;background:#1ba808"></div>
<div class="c" style="left:810.8px;top:531.8px;width:16.4px;height:13.6px;background:#1ba808"></div>
<div class="c" style="left:829.8px;top:531.8px;width:10.9px;height:13.6px;background:#1ba808"></div>
<div class="c" style="left:843.3px;top:531.8px;width:8.4px;height:13.6px;background:#1ba808"></div>
<div class="c" style="left:854.3px;top:531.8px;width:6.9px;height:6.4px;background:#118a0a"></div>
<div class="c" style="left:853.7px;top:540.2px;width:8.1px;height:5.2px;background:#066006"></div>
<div class="c r" style="left:863.2px;top:530.2px;width:5.9px;height:5.6px;background:#2a0000"></div>
<div class="c" style="left:863.8px;top:537.8px;width:5.3px;height:7.6px;background:#066006"></div>
<div class="c x t m" style="left:872.9px;top:321.6px;width:62.8px;height:70.6px;background:#1ba808;font-size:8px"><b>حکشتی</b><i>2.98%</i></div>
<div class="c x t m" style="left:872.9px;top:394.8px;width:62.8px;height:49.6px;background:#1ba808;font-size:6px"><b>حتاید</b><i>3%</i></div>
<div class="c x" style="left:938.3px;top:321.6px;width:56.8px;height:32.1px;background:#1ba808;font-size:13px"><b>حسینا</b></div>
<div class="c x" style="left:938.3px;top:356.3px;width:56.8px;height:35.9px;background:#1ba808;font-size:13px"><b>حفارس</b></div>
<div class="c x" style="left:938.3px;top:394.8px;width:28.9px;height:26.9px;background:#1ba808;font-size:12px"><b>حبندر</b></div>
<div class="c" style="left:938.3px;top:424.3px;width:28.9px;height:20.1px;background:#1ba808"></div>
<div class="c" style="left:969.8px;top:394.8px;width:25.3px;height:18.9px;background:#1ba808"></div>
<div class="c" style="left:969.8px;top:416.3px;width:15.9px;height:15.9px;background:#1ba808"></div>
<div class="c r" style="left:989.3px;top:416.3px;width:5.8px;height:23.1px;background:#b00306"></div>
<div class="c r" style="left:969.8px;top:434.8px;width:16.9px;height:9.6px;background:#2a0000"></div>
<div class="c x t m" style="left:998.9px;top:321.6px;width:78.3px;height:52.1px;background:#1ba808;font-size:8px"><b>زکوثر</b><i>2.96%</i></div>
<div class="c" style="left:1079.8px;top:321.6px;width:17.3px;height:52.1px;background:#1ba808"></div>
<div class="c x" style="left:998.9px;top:376.3px;width:26.8px;height:34.4px;background:#1ba808;font-size:11px"><b>...زمـ</b></div>
<div class="c x" style="left:1028.3px;top:376.3px;width:21.9px;height:34.4px;background:#1ba808;font-size:11px"><b>...زمـ</b></div>
<div class="c" style="left:1052.8px;top:376.3px;width:25.4px;height:21.4px;background:#1ba808"></div>
<div class="c" style="left:1080.8px;top:376.3px;width:16.3px;height:21.4px;background:#1ba808"></div>
<div class="c x" style="left:998.9px;top:413.3px;width:26.8px;height:31.1px;background:#1ba808;font-size:11px"><b>...سغد</b></div>
<div class="c x" style="left:1028.3px;top:413.3px;width:22.4px;height:31.1px;background:#1ba808;font-size:11px"><b>...زمـ</b></div>
<div class="c" style="left:1053.3px;top:400.3px;width:11.4px;height:24.9px;background:#1ba808"></div>
<div class="c" style="left:1053.3px;top:427.8px;width:11.4px;height:16.6px;background:#1ba808"></div>
<div class="c" style="left:1067.3px;top:400.3px;width:13.4px;height:12.9px;background:#1ba808"></div>
<div class="c" style="left:1083.3px;top:400.3px;width:13.8px;height:12.9px;background:#1ba808"></div>
<div class="c" style="left:1067.3px;top:415.8px;width:11.9px;height:11.4px;background:#1ba808"></div>
<div class="c" style="left:1081.8px;top:415.8px;width:6.4px;height:10.9px;background:#1ba808"></div>
<div class="c" style="left:1090.8px;top:415.8px;width:6.3px;height:10.9px;background:#1ba808"></div>
<div class="c" style="left:1067.3px;top:429.8px;width:11.9px;height:14.6px;background:#1ba808"></div>
<div class="c" style="left:1081.8px;top:429.3px;width:6.4px;height:15.1px;background:#1ba808"></div>
<div class="c" style="left:1090.8px;top:429.3px;width:6.3px;height:6.9px;background:#1ba808"></div>
<div class="c" style="left:1090.8px;top:438.8px;width:6.3px;height:5.6px;background:#1ba808"></div>
<div class="c x" style="left:1100.9px;top:321.6px;width:38.3px;height:32.1px;background:#1ba808;font-size:13px"><b>دانا</b></div>
<div class="c x" style="left:1141.8px;top:321.6px;width:36.6px;height:32.1px;background:#118a0a;font-size:13px"><b>بپاس</b></div>
<div class="c x" style="left:1100.9px;top:356.3px;width:23.8px;height:44.9px;background:#1ba808;font-size:10px"><b>...ملـ</b></div>
<div class="c x" style="left:1100.9px;top:403.8px;width:23.8px;height:40.6px;background:#1ba808;font-size:12px"><b>کوثر</b></div>
<div class="c x" style="left:1127.3px;top:356.3px;width:24.4px;height:25.4px;background:#1ba808;font-size:12px"><b>نوین</b></div>
<div class="c x" style="left:1154.3px;top:356.3px;width:24.1px;height:25.4px;background:#066006;font-size:12px"><b>...ال</b></div>
<div class="c" style="left:1127.3px;top:384.3px;width:21.4px;height:21.4px;background:#1ba808"></div>
<div class="c" style="left:1151.3px;top:384.3px;width:13.9px;height:21.4px;background:#1ba808"></div>
<div class="c" style="left:1167.8px;top:384.3px;width:10.6px;height:21.4px;background:#1ba808"></div>
<div class="c" style="left:1127.3px;top:408.3px;width:21.9px;height:17.4px;background:#066006"></div>
<div class="c" style="left:1127.3px;top:428.3px;width:21.9px;height:16.1px;background:#1ba808"></div>
<div class="c" style="left:1151.8px;top:408.3px;width:13.4px;height:14.9px;background:#1ba808"></div>
<div class="c r" style="left:1151.8px;top:425.8px;width:11.9px;height:9.4px;background:#7f0002"></div>
<div class="c r" style="left:1151.8px;top:437.8px;width:11.9px;height:6.6px;background:#560000"></div>
<div class="c" style="left:1167.8px;top:408.3px;width:10.6px;height:14.9px;background:#1ba808"></div>
<div class="c" style="left:1165.7px;top:425.2px;width:6.1px;height:12.6px;background:#1ba808"></div>
<div class="c" style="left:1173.2px;top:425.2px;width:5.2px;height:12.6px;background:#1ba808"></div>
<div class="c" style="left:1165.7px;top:439.2px;width:6.1px;height:5.2px;background:#066006"></div>
<div class="c" style="left:1173.2px;top:439.2px;width:5.2px;height:5.2px;background:#066006"></div>
<div class="c r x p" style="left:872.9px;top:473.6px;width:32.8px;height:63.1px;background:#7f0002;font-size:14px"><b>رتاپ</b></div>
<div class="c x" style="left:872.9px;top:539.3px;width:32.8px;height:25.1px;background:#1ba808;font-size:11px"><b>های وب</b></div>
<div class="c x" style="left:908.3px;top:473.6px;width:24.9px;height:28.6px;background:#1ba808;font-size:11px"><b>...افرا</b></div>
<div class="c" style="left:935.8px;top:473.6px;width:20.3px;height:28.6px;background:#1ba808"></div>
<div class="c x" style="left:908.3px;top:504.8px;width:25.9px;height:23.4px;background:#066006;font-size:8px"><b>...سیس</b></div>
<div class="c x" style="left:936.8px;top:504.8px;width:19.3px;height:23.4px;background:#1ba808;font-size:10px"><b>...مفا</b></div>
<div class="c" style="left:908.3px;top:530.8px;width:16.4px;height:17.9px;background:#1ba808"></div>
<div class="c" style="left:908.3px;top:551.3px;width:16.4px;height:13.1px;background:#1ba808"></div>
<div class="c" style="left:927.3px;top:530.8px;width:9.4px;height:14.9px;background:#1ba808"></div>
<div class="c" style="left:927.3px;top:548.3px;width:9.4px;height:16.1px;background:#1ba808"></div>
<div class="c" style="left:939.3px;top:530.8px;width:5.9px;height:17.9px;background:#1ba808"></div>
<div class="c" style="left:939.3px;top:551.3px;width:6.4px;height:11.1px;background:#118a0a"></div>
<div class="c" style="left:947.8px;top:530.8px;width:8.3px;height:17.9px;background:#1ba808"></div>
<div class="c r" style="left:948.3px;top:551.3px;width:8.1px;height:5.9px;background:#2a0000"></div>
<div class="c" style="left:947.7px;top:559.2px;width:8.7px;height:5.2px;background:#1ba808"></div>
<div class="c x" style="left:959.9px;top:473.6px;width:37.8px;height:36.1px;background:#1ba808;font-size:13px"><b>...الکترو</b></div>
<div class="c x" style="left:959.9px;top:512.3px;width:37.8px;height:34.1px;background:#1ba808;font-size:13px"><b>تایرا</b></div>
<div class="c x" style="left:1000.3px;top:473.6px;width:20.4px;height:28.1px;background:#1ba808;font-size:11px"><b>...ل</b></div>
<div class="c" style="left:1023.3px;top:473.6px;width:16.8px;height:28.1px;background:#1ba808"></div>
<div class="c" style="left:1000.3px;top:504.3px;width:17.9px;height:26.4px;background:#1ba808"></div>
<div class="c" style="left:1000.3px;top:533.3px;width:17.9px;height:13.1px;background:#1ba808"></div>
<div class="c" style="left:1021.8px;top:504.3px;width:9.4px;height:18.9px;background:#1ba808"></div>
<div class="c" style="left:1033.8px;top:504.3px;width:6.3px;height:18.9px;background:#1ba808"></div>
<div class="c" style="left:1020.8px;top:525.8px;width:12.4px;height:10.4px;background:#118a0a"></div>
<div class="c" style="left:1020.8px;top:538.8px;width:12.4px;height:7.6px;background:#066006"></div>
<div class="c" style="left:1035.2px;top:525.2px;width:4.9px;height:21.2px;background:#1ba808"></div>
<div class="c x" style="left:1043.9px;top:473.6px;width:27.8px;height:36.1px;background:#1ba808;font-size:13px"><b>مبین</b></div>
<div class="c x" style="left:1043.9px;top:512.3px;width:27.8px;height:34.1px;background:#1ba808;font-size:12px"><b>...دما</b></div>
<div class="c" style="left:1074.3px;top:473.6px;width:19.4px;height:22.1px;background:#1ba808"></div>
<div class="c" style="left:1096.3px;top:473.6px;width:15.8px;height:22.1px;background:#118a0a"></div>
<div class="c" style="left:1074.3px;top:498.3px;width:19.4px;height:19.4px;background:#1ba808"></div>
<div class="c" style="left:1096.3px;top:498.3px;width:15.8px;height:19.4px;background:#1ba808"></div>
<div class="c" style="left:1074.3px;top:520.3px;width:9.4px;height:26.1px;background:#1ba808"></div>
<div class="c" style="left:1086.3px;top:520.3px;width:11.4px;height:12.9px;background:#1ba808"></div>
<div class="c r" style="left:1086.3px;top:535.8px;width:11.9px;height:10.6px;background:#d81010"></div>
<div class="c" style="left:1100.8px;top:520.3px;width:5.9px;height:19.9px;background:#1ba808"></div>
<div class="c" style="left:1108.7px;top:519.7px;width:3.4px;height:21.1px;background:#066006"></div>
<div class="c r" style="left:1100.2px;top:542.2px;width:5.6px;height:4.2px;background:#2a0000"></div>
<div class="c r" style="left:1107.2px;top:542.2px;width:4.9px;height:4.2px;background:#2a0000"></div>
<div class="c x" style="left:1115.9px;top:473.6px;width:28.8px;height:51.1px;background:#1ba808;font-size:12px"><b>...تکا</b></div>
<div class="c" style="left:1115.9px;top:527.3px;width:28.8px;height:19.1px;background:#1ba808"></div>
<div class="c" style="left:1147.3px;top:473.6px;width:15.4px;height:29.1px;background:#118a0a"></div>
<div class="c" style="left:1147.3px;top:505.3px;width:15.4px;height:22.4px;background:#066006"></div>
<div class="c" style="left:1147.3px;top:530.3px;width:6.9px;height:16.1px;background:#1ba808"></div>
<div class="c" style="left:1156.8px;top:530.3px;width:5.9px;height:16.1px;background:#1ba808"></div>
<div class="c" style="left:1165.3px;top:473.6px;width:13.1px;height:29.1px;background:#1ba808"></div>
<div class="c" style="left:1165.3px;top:505.3px;width:13.1px;height:22.4px;background:#1ba808"></div>
<div class="c" style="left:1165.3px;top:530.3px;width:13.1px;height:7.4px;background:#1ba808"></div>
<div class="c r" style="left:1165.8px;top:540.3px;width:12.6px;height:6.1px;background:#2a0000"></div>
<div class="c r x t p m" style="left:554.9px;top:567.6px;width:88.3px;height:65.1px;background:#b00306;font-size:7px"><b>غالبر</b><i>-2.89%</i></div>
<div class="c r x t m" style="left:645.8px;top:567.6px;width:85.8px;height:65.1px;background:#560000;font-size:6px"><b>پرداخت اول</b><i>-0.71%</i></div>
<div class="c x" style="left:554.9px;top:635.3px;width:39.3px;height:50.9px;background:#066006;font-size:13px"><b>آذربه</b></div>
<div class="c x" style="left:596.8px;top:635.3px;width:30.4px;height:50.9px;background:#1ba808;font-size:12px"><b>غپاس</b></div>
<div class="c x" style="left:629.8px;top:635.3px;width:35.4px;height:32.4px;background:#1ba808;font-size:12px"><b>غدیس</b></div>
<div class="c x" style="left:667.8px;top:635.3px;width:31.4px;height:32.4px;background:#118a0a;font-size:12px"><b>غشهرا</b></div>
<div class="c x" style="left:701.8px;top:635.3px;width:29.8px;height:32.4px;background:#1ba808;font-size:12px"><b>...غد</b></div>
<div class="c x" style="left:554.9px;top:688.8px;width:39.3px;height:45.4px;background:#1ba808;font-size:13px"><b>غگل</b></div>
<div class="c x" style="left:596.8px;top:688.8px;width:30.4px;height:45.4px;background:#1ba808;font-size:13px"><b>غزر</b></div>
<div class="c x" style="left:554.9px;top:736.8px;width:39.3px;height:43.6px;background:#1ba808;font-size:13px"><b>غوش</b></div>
<div class="c x" style="left:596.8px;top:736.8px;width:30.4px;height:43.6px;background:#1ba808;font-size:12px"><b>...بان</b></div>
<div class="c x" style="left:629.8px;top:670.3px;width:20.4px;height:33.9px;background:#1ba808;font-size:10px"><b>...غ</b></div>
<div class="c" style="left:629.8px;top:706.8px;width:20.4px;height:18.4px;background:#1ba808"></div>
<div class="c x" style="left:629.8px;top:727.8px;width:20.4px;height:26.4px;background:#1ba808;font-size:10px"><b>...غ</b></div>
<div class="c x" style="left:629.8px;top:756.8px;width:20.4px;height:23.6px;background:#1ba808;font-size:10px"><b>...غ</b></div>
<div class="c x" style="left:652.8px;top:670.3px;width:20.4px;height:30.4px;background:#1ba808;font-size:10px"><b>...سا</b></div>
<div class="c" style="left:652.8px;top:703.3px;width:20.4px;height:22.9px;background:#1ba808"></div>
<div class="c r" style="left:652.8px;top:728.8px;width:17.9px;height:25.4px;background:#560000"></div>
<div class="c" style="left:652.8px;top:756.8px;width:17.9px;height:23.6px;background:#1ba808"></div>
<div class="c" style="left:675.8px;top:670.3px;width:16.4px;height:30.4px;background:#1ba808"></div>
<div class="c" style="left:694.8px;top:670.3px;width:16.4px;height:30.4px;background:#1ba808"></div>
<div class="c" style="left:713.8px;top:670.3px;width:17.8px;height:29.9px;background:#1ba808"></div>
<div class="c" style="left:675.8px;top:703.3px;width:16.4px;height:19.4px;background:#1ba808"></div>
<div class="c" style="left:694.8px;top:703.3px;width:16.4px;height:19.4px;background:#1ba808"></div>
<div class="c" style="left:713.8px;top:702.8px;width:17.8px;height:19.9px;background:#118a0a"></div>
<div class="c" style="left:673.3px;top:725.3px;width:10.9px;height:15.9px;background:#1ba808"></div>
<div class="c" style="left:686.8px;top:725.3px;width:10.4px;height:15.9px;background:#1ba808"></div>
<div class="c" style="left:699.8px;top:725.3px;width:8.4px;height:15.9px;background:#1ba808"></div>
<div class="c" style="left:710.8px;top:725.3px;width:6.4px;height:15.9px;background:#1ba808"></div>
<div class="c" style="left:673.3px;top:743.8px;width:10.9px;height:10.4px;background:#1ba808"></div>
<div class="c" style="left:686.8px;top:743.8px;width:10.4px;height:10.4px;background:#1ba808"></div>
<div class="c" style="left:699.8px;top:743.8px;width:8.4px;height:10.4px;background:#1ba808"></div>
<div class="c" style="left:710.8px;top:743.8px;width:6.4px;height:10.4px;background:#1ba808"></div>
<div class="c" style="left:673.3px;top:756.8px;width:10.9px;height:9.4px;background:#1ba808"></div>
<div class="c" style="left:686.8px;top:756.8px;width:10.4px;height:9.4px;background:#1ba808"></div>
<div class="c" style="left:699.8px;top:756.8px;width:8.4px;height:9.4px;background:#1ba808"></div>
<div class="c" style="left:710.8px;top:756.8px;width:6.4px;height:9.4px;background:#1ba808"></div>
<div class="c" style="left:673.3px;top:768.8px;width:10.9px;height:11.6px;background:#1ba808"></div>
<div class="c" style="left:686.8px;top:768.8px;width:10.4px;height:11.6px;background:#1ba808"></div>
<div class="c" style="left:699.8px;top:768.8px;width:8.4px;height:11.6px;background:#1ba808"></div>
<div class="c" style="left:710.8px;top:768.8px;width:6.4px;height:11.6px;background:#1ba808"></div>
<div class="c" style="left:719.8px;top:725.3px;width:11.8px;height:15.9px;background:#066006"></div>
<div class="c" style="left:719.2px;top:743.2px;width:5.6px;height:11.6px;background:#1ba808"></div>
<div class="c" style="left:726.2px;top:743.2px;width:5.4px;height:11.6px;background:#1ba808"></div>
<div class="c" style="left:719.2px;top:756.2px;width:5.6px;height:10.6px;background:#1ba808"></div>
<div class="c" style="left:726.2px;top:756.2px;width:5.4px;height:10.6px;background:#1ba808"></div>
<div class="c" style="left:719.8px;top:768.8px;width:11.8px;height:11.6px;background:#1ba808"></div>
<div class="c r" style="left:724.6px;top:769.8px;width:7px;height:8.6px;background:#b00306"></div>
<div class="c r x t p g" style="left:735.4px;top:572.6px;width:133.2px;height:126.1px;background:#7f0002;font-size:28px"><b>ثفارس</b><i>-1.02%</i></div>
<div class="c x" style="left:735.4px;top:701.3px;width:31.3px;height:79.1px;background:#1ba808;font-size:13px"><b>کرمان</b></div>
<div class="c x" style="left:769.3px;top:701.3px;width:29.4px;height:47.9px;background:#066006;font-size:13px"><b>ثغرب</b></div>
<div class="c x" style="left:769.3px;top:751.8px;width:29.4px;height:28.6px;background:#1ba808;font-size:11px"><b>ثشاهد</b></div>
<div class="c x" style="left:801.3px;top:701.3px;width:20.9px;height:30.4px;background:#1ba808;font-size:10px"><b>...ثـ</b></div>
<div class="c x" style="left:801.3px;top:734.3px;width:20.9px;height:22.4px;background:#1ba808;font-size:8px"><b>...ثـ</b></div>
<div class="c" style="left:801.3px;top:759.3px;width:20.9px;height:21.1px;background:#118a0a"></div>
<div class="c" style="left:824.8px;top:701.3px;width:20.4px;height:18.4px;background:#1ba808"></div>
<div class="c" style="left:847.8px;top:701.3px;width:20.8px;height:18.4px;background:#1ba808"></div>
<div class="c" style="left:824.8px;top:722.3px;width:13.4px;height:22.4px;background:#1ba808"></div>
<div class="c" style="left:840.8px;top:722.3px;width:11.9px;height:22.4px;background:#1ba808"></div>
<div class="c" style="left:855.3px;top:722.3px;width:13.3px;height:22.4px;background:#1ba808"></div>
<div class="c" style="left:824.8px;top:747.3px;width:13.4px;height:11.9px;background:#1ba808"></div>
<div class="c" style="left:840.8px;top:747.3px;width:11.9px;height:11.9px;background:#1ba808"></div>
<div class="c" style="left:855.3px;top:747.3px;width:13.3px;height:11.9px;background:#1ba808"></div>
<div class="c" style="left:824.8px;top:761.8px;width:13.4px;height:9.4px;background:#1ba808"></div>
<div class="c" style="left:840.8px;top:761.8px;width:11.9px;height:9.4px;background:#1ba808"></div>
<div class="c" style="left:855.3px;top:761.8px;width:13.3px;height:9.4px;background:#1ba808"></div>
<div class="c" style="left:824.8px;top:773.8px;width:13.4px;height:6.6px;background:#1ba808"></div>
<div class="c" style="left:840.8px;top:773.8px;width:11.9px;height:6.6px;background:#1ba808"></div>
<div class="c" style="left:855.3px;top:773.8px;width:13.3px;height:6.6px;background:#1ba808"></div>
<div class="c r" style="left:865.6px;top:773.2px;width:3px;height:7.2px;background:#b00306"></div>
<div class="c x" style="left:872.4px;top:592.6px;width:35.3px;height:43.6px;background:#1ba808;font-size:13px"><b>کاذر</b></div>
<div class="c x" style="left:872.4px;top:638.8px;width:35.3px;height:34.6px;background:#1ba808;font-size:13px"><b>کسرا</b></div>
<div class="c x" style="left:910.3px;top:592.6px;width:21.4px;height:23.1px;background:#1ba808;font-size:9px"><b>...کـ</b></div>
<div class="c x" style="left:934.3px;top:592.6px;width:21.8px;height:23.1px;background:#1ba808;font-size:9px"><b>...کـ</b></div>
<div class="c" style="left:910.3px;top:618.3px;width:18.4px;height:29.4px;background:#1ba808"></div>
<div class="c" style="left:931.3px;top:618.3px;width:11.4px;height:29.4px;background:#1ba808"></div>
<div class="c" style="left:945.3px;top:618.3px;width:10.8px;height:29.4px;background:#1ba808"></div>
<div class="c" style="left:910.3px;top:650.3px;width:18.4px;height:23.1px;background:#1ba808"></div>
<div class="c" style="left:931.3px;top:650.3px;width:11.4px;height:23.1px;background:#1ba808"></div>
<div class="c" style="left:945.3px;top:650.3px;width:11.1px;height:23.1px;background:#118a0a"></div>
<div class="c x t m" style="left:872.4px;top:701.6px;width:43.3px;height:78.8px;background:#1ba808;font-size:7px"><b>تنوین</b><i>3%</i></div>
<div class="c" style="left:918.3px;top:701.6px;width:19.4px;height:29.1px;background:#1ba808"></div>
<div class="c" style="left:918.3px;top:733.3px;width:19.9px;height:21.9px;background:#1ba808"></div>
<div class="c" style="left:918.3px;top:757.8px;width:19.4px;height:22.6px;background:#1ba808"></div>
<div class="c x" style="left:940.3px;top:701.6px;width:15.8px;height:29.6px;background:#1ba808;font-size:9px"><b>...ا</b></div>
<div class="c r" style="left:940.8px;top:733.8px;width:15.3px;height:20.9px;background:#560000"></div>
<div class="c" style="left:940.3px;top:757.3px;width:5.9px;height:18.4px;background:#066006"></div>
<div class="c" style="left:948.8px;top:757.3px;width:7.3px;height:10.9px;background:#1ba808"></div>
<div class="c" style="left:948.8px;top:770.8px;width:7.3px;height:9.6px;background:#1ba808"></div>
<div class="c" style="left:939.7px;top:777.7px;width:7.1px;height:2.7px;background:#1ba808"></div>
<div class="c r x t m" style="left:959.9px;top:574.6px;width:49.3px;height:68.8px;background:#560000;font-size:6px"><b>نمرینو</b><i>-5%</i></div>
<div class="c" style="left:1011.8px;top:574.6px;width:8.9px;height:40.6px;background:#1ba808"></div>
<div class="c" style="left:1011.8px;top:617.8px;width:8.6px;height:12.4px;background:#1ba808"></div>
<div class="c" style="left:1011.8px;top:632.8px;width:8.6px;height:10.6px;background:#1ba808"></div>
<div class="c" style="left:1023.3px;top:574.6px;width:20.9px;height:19.1px;background:#1ba808"></div>
<div class="c r" style="left:1023.3px;top:596.3px;width:20.4px;height:19.1px;background:#560000"></div>
<div class="c" style="left:1046.8px;top:574.6px;width:12.4px;height:16.1px;background:#1ba808"></div>
<div class="c" style="left:1061.8px;top:574.6px;width:13.9px;height:16.1px;background:#1ba808"></div>
<div class="c" style="left:1046.3px;top:593.3px;width:12.9px;height:11.9px;background:#1ba808"></div>
<div class="c" style="left:1061.8px;top:593.3px;width:13.9px;height:11.9px;background:#1ba808"></div>
<div class="c" style="left:1046.3px;top:607.8px;width:12.4px;height:7.6px;background:#1ba808"></div>
<div class="c r" style="left:1061.3px;top:608.3px;width:6.4px;height:7.1px;background:#d81010"></div>
<div class="c r" style="left:1070.3px;top:607.8px;width:5.4px;height:7.6px;background:#b00306"></div>
<div class="c x" style="left:1078.3px;top:574.6px;width:36.9px;height:40.8px;background:#1ba808;font-size:13px"><b>اخابر</b></div>
<div class="c" style="left:1117.8px;top:574.6px;width:9.9px;height:40.8px;background:#1ba808"></div>
<div class="c r x p" style="left:1130.3px;top:574.6px;width:40.9px;height:40.8px;background:#b00306;font-size:13px"><b>ثپان</b></div>
<div class="c" style="left:1173.2px;top:574.6px;width:5.2px;height:40.8px;background:#1ba808"></div>
<div class="c" style="left:959.6px;top:671.6px;width:18.6px;height:26.1px;background:#118a0a"></div>
<div class="c" style="left:959.9px;top:700.3px;width:18.3px;height:16.1px;background:#1ba808"></div>
<div class="c" style="left:980.8px;top:671.6px;width:11.4px;height:22.1px;background:#1ba808"></div>
<div class="c" style="left:980.8px;top:696.3px;width:11.4px;height:20.1px;background:#1ba808"></div>
<div class="c" style="left:994.8px;top:671.6px;width:11.4px;height:18.1px;background:#1ba808"></div>
<div class="c" style="left:994.8px;top:692.3px;width:11.4px;height:8.9px;background:#1ba808"></div>
<div class="c" style="left:994.8px;top:703.8px;width:11.4px;height:12.6px;background:#1ba808"></div>
<div class="c" style="left:1008.8px;top:671.6px;width:11.6px;height:18.1px;background:#1ba808"></div>
<div class="c" style="left:1008.8px;top:692.3px;width:11.6px;height:8.9px;background:#1ba808"></div>
<div class="c" style="left:1008.8px;top:703.8px;width:4.9px;height:12.6px;background:#1ba808"></div>
<div class="c" style="left:1015.7px;top:703.2px;width:5.6px;height:13.2px;background:#1ba808"></div>
<div class="c x t m" style="left:959.9px;top:745.6px;width:25.3px;height:34.8px;background:#1ba808;font-size:5px"><b>ثاخت</b><i>3%</i></div>
<div class="c" style="left:987.8px;top:745.6px;width:12.4px;height:34.8px;background:#1ba808"></div>
<div class="c" style="left:1002.8px;top:745.6px;width:17.9px;height:25.6px;background:#1ba808"></div>
<div class="c" style="left:1002.8px;top:773.8px;width:17.9px;height:6.6px;background:#066006"></div>
<div class="c x" style="left:1023.6px;top:644.6px;width:40.6px;height:27.8px;background:#1ba808;font-size:13px"><b>رمپنا</b></div>
<div class="c r" style="left:1066.8px;top:644.6px;width:13.9px;height:13.1px;background:#560000"></div>
<div class="c r" style="left:1066.8px;top:660.3px;width:13.9px;height:12.1px;background:#b00306"></div>
<div class="c" style="left:1023.3px;top:700.6px;width:10.9px;height:27.8px;background:#1ba808"></div>
<div class="c" style="left:1036.8px;top:700.6px;width:10.4px;height:27.8px;background:#1ba808"></div>
<div class="c" style="left:1049.8px;top:700.6px;width:15.4px;height:13.6px;background:#1ba808"></div>
<div class="c r" style="left:1050.3px;top:716.8px;width:14.9px;height:11.6px;background:#7f0002"></div>
<div class="c" style="left:1067.8px;top:700.6px;width:12.9px;height:6.6px;background:#1ba808"></div>
<div class="c" style="left:1067.8px;top:709.8px;width:12.6px;height:8.4px;background:#1ba808"></div>
<div class="c" style="left:1067.8px;top:720.8px;width:12.6px;height:7.6px;background:#1ba808"></div>
<div class="c x" style="left:1023.3px;top:756.6px;width:24.4px;height:23.8px;background:#1ba808;font-size:8px"><b>...سفا</b></div>
<div class="c" style="left:1050.3px;top:756.6px;width:13.9px;height:23.8px;background:#1ba808"></div>
<div class="c" style="left:1066.8px;top:756.6px;width:13.9px;height:23.8px;background:#1ba808"></div>
<div class="c x" style="left:1083.3px;top:644.6px;width:23.9px;height:22.8px;background:#118a0a;font-size:11px"><b>اتکام</b></div>
<div class="c x" style="left:1109.8px;top:644.6px;width:22.9px;height:22.8px;background:#1ba808;font-size:10px"><b>...سکا</b></div>
<div class="c r" style="left:1083.3px;top:694.6px;width:37.4px;height:11.8px;background:#b00306"></div>
<div class="c" style="left:1083.6px;top:734.6px;width:5.1px;height:9.8px;background:#1ba808"></div>
<div class="c" style="left:1091.3px;top:734.6px;width:4.4px;height:9.8px;background:#1ba808"></div>
<div class="c" style="left:1098.3px;top:734.6px;width:4.4px;height:9.8px;background:#1ba808"></div>
<div class="c" style="left:1105.3px;top:734.6px;width:4.4px;height:9.8px;background:#1ba808"></div>
<div class="c" style="left:1112.3px;top:734.6px;width:8.4px;height:9.8px;background:#1ba808"></div>
<div class="c" style="left:1083.3px;top:772.6px;width:37.4px;height:7.8px;background:#1ba808"></div>
<div class="c" style="left:1135.3px;top:644.6px;width:12.9px;height:22.8px;background:#1ba808"></div>
<div class="c" style="left:1150.8px;top:644.6px;width:10.4px;height:9.6px;background:#1ba808"></div>
<div class="c" style="left:1150.8px;top:656.8px;width:10.4px;height:10.6px;background:#1ba808"></div>
<div class="c" style="left:1163.8px;top:644.6px;width:5.9px;height:9.6px;background:#1ba808"></div>
<div class="c" style="left:1172.3px;top:644.6px;width:6.1px;height:9.6px;background:#1ba808"></div>
<div class="c" style="left:1163.8px;top:656.8px;width:5.9px;height:10.6px;background:#1ba808"></div>
<div class="c" style="left:1172.3px;top:656.8px;width:6.1px;height:10.6px;background:#1ba808"></div>
<div class="c" style="left:1123.3px;top:694.6px;width:19.9px;height:13.8px;background:#1ba808"></div>
<div class="c" style="left:1145.8px;top:694.6px;width:5.9px;height:13.8px;background:#1ba808"></div>
<div class="c" style="left:1154.3px;top:694.6px;width:7.9px;height:13.8px;background:#1ba808"></div>
<div class="c" style="left:1164.8px;top:694.6px;width:7.4px;height:13.8px;background:#1ba808"></div>
<div class="c" style="left:1174.2px;top:694.6px;width:4.2px;height:13.8px;background:#118a0a"></div>
<div class="c" style="left:1123.3px;top:735.6px;width:13.9px;height:12.8px;background:#1ba808"></div>
<div class="c" style="left:1139.8px;top:735.6px;width:6.4px;height:12.8px;background:#066006"></div>
<div class="c" style="left:1148.2px;top:735.6px;width:4.1px;height:12.8px;background:#1ba808"></div>
<div class="c" style="left:1154.3px;top:735.6px;width:24.1px;height:12.8px;background:#1ba808"></div>
<div class="c" style="left:1123.3px;top:773.6px;width:13.9px;height:6.8px;background:#1ba808"></div>
<div class="c" style="left:1139.8px;top:773.6px;width:11.6px;height:6.8px;background:#1ba808"></div>
<div class="w" style="left:1153px;top:751px;width:27px;height:31px"></div>
<div class="w" style="left:1156px;top:754px;width:10px;height:16px;box-shadow:inset 0 0 0 1px #e2e6e2"></div>
<div class="w" style="left:1168px;top:754px;width:10px;height:16px;box-shadow:inset 0 0 0 1px #e2e6e2"></div>
<div class="w" style="left:1156px;top:773px;width:22px;height:7px;box-shadow:inset 0 0 0 1px #e2e6e2"></div>
</div>
</body>
</html>
